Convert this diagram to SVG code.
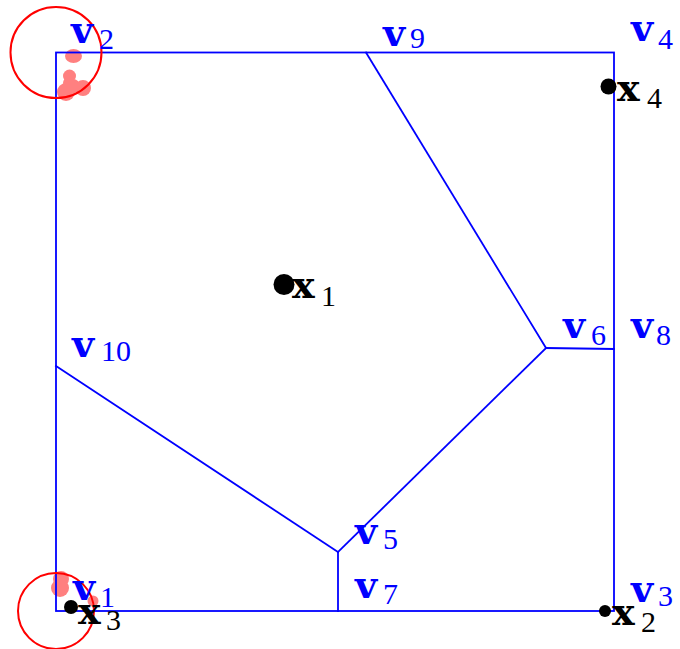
<svg xmlns="http://www.w3.org/2000/svg" width="680" height="649" viewBox="0 0 680 649">
<style>
.edge{stroke:#0000ff;stroke-width:1.8;fill:none;stroke-linecap:square}
.vl{fill:#0000ff}
.xl{fill:#000}
.b{font-family:"DejaVu Serif",serif;font-weight:bold;font-size:38px}
.s{font-family:"Liberation Serif",serif;font-size:30px}
.blob{fill:#ff8080}
.ring{fill:none;stroke:#ff0000;stroke-width:2}
.site{fill:#000}
</style>
<rect width="680" height="649" fill="#fff"/>
<g id="blobs">
<ellipse class="blob" cx="73.5" cy="56" rx="8.5" ry="7"/>
<circle class="blob" cx="69.5" cy="76" r="6.5"/>
<circle class="blob" cx="66" cy="92" r="9"/>
<circle class="blob" cx="73" cy="86" r="7"/>
<circle class="blob" cx="83" cy="88" r="8"/>
<circle class="blob" cx="69" cy="83" r="6"/>
<circle class="blob" cx="61" cy="579" r="8"/>
<circle class="blob" cx="60" cy="588" r="9"/>
<circle class="blob" cx="93" cy="601" r="5.5"/>
</g>
<g id="connectors">
<rect class="edge" x="56" y="52.5" width="558" height="558.5"/>
<line class="edge" x1="366" y1="52.5" x2="546" y2="348"/>
<line class="edge" x1="546" y1="348" x2="614" y2="349"/>
<line class="edge" x1="546" y1="348" x2="338" y2="552"/>
<line class="edge" x1="56" y1="366" x2="338" y2="552"/>
<line class="edge" x1="338" y1="552" x2="338" y2="611"/>
</g>
<g id="rings">
<circle class="ring" cx="56" cy="52.5" r="45.5"/>
<circle class="ring" cx="56" cy="611" r="38"/>
</g>
<g id="sites">
<g id="x1"><circle class="site" cx="284" cy="284.5" r="10.5"/><text class="b xl" x="292" y="298">x</text><text class="s xl" x="321" y="306">1</text></g>
<g id="x2"><circle class="site" cx="605" cy="611" r="6"/><text class="b xl" x="612" y="625">x</text><text class="s xl" x="641" y="632">2</text></g>
<g id="x3"><circle class="site" cx="71" cy="607" r="7"/><text class="b xl" x="78" y="624">x</text><text class="s xl" x="106" y="630">3</text></g>
<g id="x4"><circle class="site" cx="608.5" cy="86.5" r="8"/><text class="b xl" x="617" y="101">x</text><text class="s xl" x="647" y="108">4</text></g>
</g>
<g id="vertices">
<g id="v1"><text class="b vl" x="73" y="600">v</text><text class="s vl" x="100" y="607">1</text></g>
<g id="v2"><text class="b vl" x="71" y="43">v</text><text class="s vl" x="99" y="49">2</text></g>
<g id="v3"><text class="b vl" x="631" y="602">v</text><text class="s vl" x="658" y="606">3</text></g>
<g id="v4"><text class="b vl" x="631" y="41">v</text><text class="s vl" x="658" y="49">4</text></g>
<g id="v5"><text class="b vl" x="355" y="544">v</text><text class="s vl" x="383" y="549">5</text></g>
<g id="v6"><text class="b vl" x="563" y="338">v</text><text class="s vl" x="591" y="345">6</text></g>
<g id="v7"><text class="b vl" x="355" y="598">v</text><text class="s vl" x="383" y="604">7</text></g>
<g id="v8"><text class="b vl" x="631" y="338">v</text><text class="s vl" x="656" y="345">8</text></g>
<g id="v9"><text class="b vl" x="383" y="46">v</text><text class="s vl" x="410" y="48">9</text></g>
<g id="v10"><text class="b vl" x="72" y="357">v</text><text class="s vl" x="101" y="361">10</text></g>
</g>
</svg>
